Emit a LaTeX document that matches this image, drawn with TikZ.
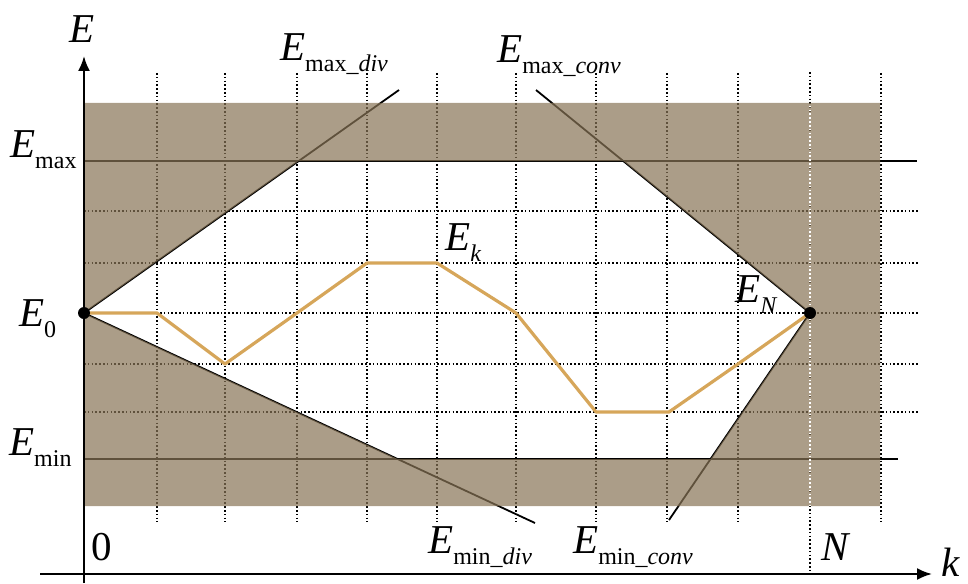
\documentclass[tikz,border=0pt]{standalone}
\usepackage{fontspec}
\setmainfont{Liberation Serif}
\usepackage{xcolor}
\usepackage{tikz}
\usetikzlibrary{arrows.meta}
\definecolor{shadebrn}{RGB}{136,116,86}
\definecolor{ekline}{RGB}{214,166,90}
\newcommand{\Elbl}[1]{\textit{E}\raisebox{-11pt}{\fontsize{24}{24}\selectfont #1}}

\begin{document}
\begin{tikzpicture}[x=1pt, y=-1pt,
  gridln/.style={line width=1.5pt, dash pattern=on 1.6pt off 2.2pt},
  bound/.style={line width=1.8pt},
  axis/.style={line width=2.2pt, -{Latex[length=15pt,width=12pt]}},
  lbl/.style={inner sep=0pt, anchor=base west, font=\fontsize{41}{41}\selectfont}
]
\useasboundingbox (0,0) rectangle (968,583);

% dotted grid
\foreach \x in {157,225,297,367,437,516,596,667,738,881}
  \draw[gridln] (\x,73) -- (\x,522);
\draw[gridln] (810,72) -- (810,575);
\foreach \y in {211,263,313,364,412}
  \draw[gridln] (84,\y) -- (918,\y);

\coordinate (E0) at (84,313);
\coordinate (EN) at (810,313);
\coordinate (maxdiv) at (399,90);
\coordinate (maxconv) at (536,90);
\coordinate (mindiv) at (535,523);
\coordinate (minconv) at (669,520);
\coordinate (emaxL) at (84,161);
\coordinate (emaxR) at (917,161);
\coordinate (eminL) at (84,459);
\coordinate (eminR) at (898,459);

% limits
\draw[bound] (emaxL) -- (emaxR);
\draw[bound] (eminL) -- (eminR);
\draw[bound] (E0) -- (maxdiv);
\draw[bound] (E0) -- (mindiv);
\draw[bound] (maxconv) -- (EN);
\draw[bound] (minconv) -- (EN);

% forbidden band
\fill[shadebrn, fill opacity=0.7, even odd rule]
  (84,103) rectangle (880,506)
  (E0) -- (intersection of E0--maxdiv and emaxL--emaxR)
  -- (intersection of maxconv--EN and emaxL--emaxR) -- (EN)
  -- (intersection of minconv--EN and eminL--eminR)
  -- (intersection of E0--mindiv and eminL--eminR) -- cycle;
\draw[gridln, white, dash phase=1.9pt] (810,104) -- (810,505);

% trajectory E_k
\draw[ekline, line width=3.2pt, line join=round]
  (E0) -- (157,313) -- (225,364) -- (297,313) -- (367,263) -- (437,263)
  -- (516,313) -- (596,412) -- (669,412) -- (738,364) -- (EN);

% axes
\draw[axis] (84,583) -- (84,56);
\draw[axis] (40,574) -- (932,574);

\fill (E0) circle[radius=6pt];
\fill (EN) circle[radius=6pt];

\node[lbl] (Eaxis) at (69,43) {\textit{E}};
\node[lbl] (Emax) at (10,157) {\Elbl{max}};
\node[lbl] (Ezero) at (19,326) {\Elbl{0}};
\node[lbl] (Emin) at (9,455) {\Elbl{min}};
\node[lbl] (Emaxdiv) at (280,61) {\Elbl{max\_\textit{div}}};
\node[lbl] (Emaxconv) at (497,63) {\Elbl{max\_\textit{conv}}};
\node[lbl] (Ek) at (445,250) {\Elbl{\textit{k}}};
\node[lbl] (ENlbl) at (735,302) {\Elbl{\textit{N}}};
\node[lbl] (Emindiv) at (428,553) {\Elbl{min\_\textit{div}}};
\node[lbl] (Eminconv) at (573,553) {\Elbl{min\_\textit{conv}}};
\node[lbl] (zero) at (91,560) {0};
\node[lbl] (Nlbl) at (821,560) {\textit{N}};
\node[lbl] (klbl) at (941,576) {\textit{k}};
\end{tikzpicture}
\end{document}
